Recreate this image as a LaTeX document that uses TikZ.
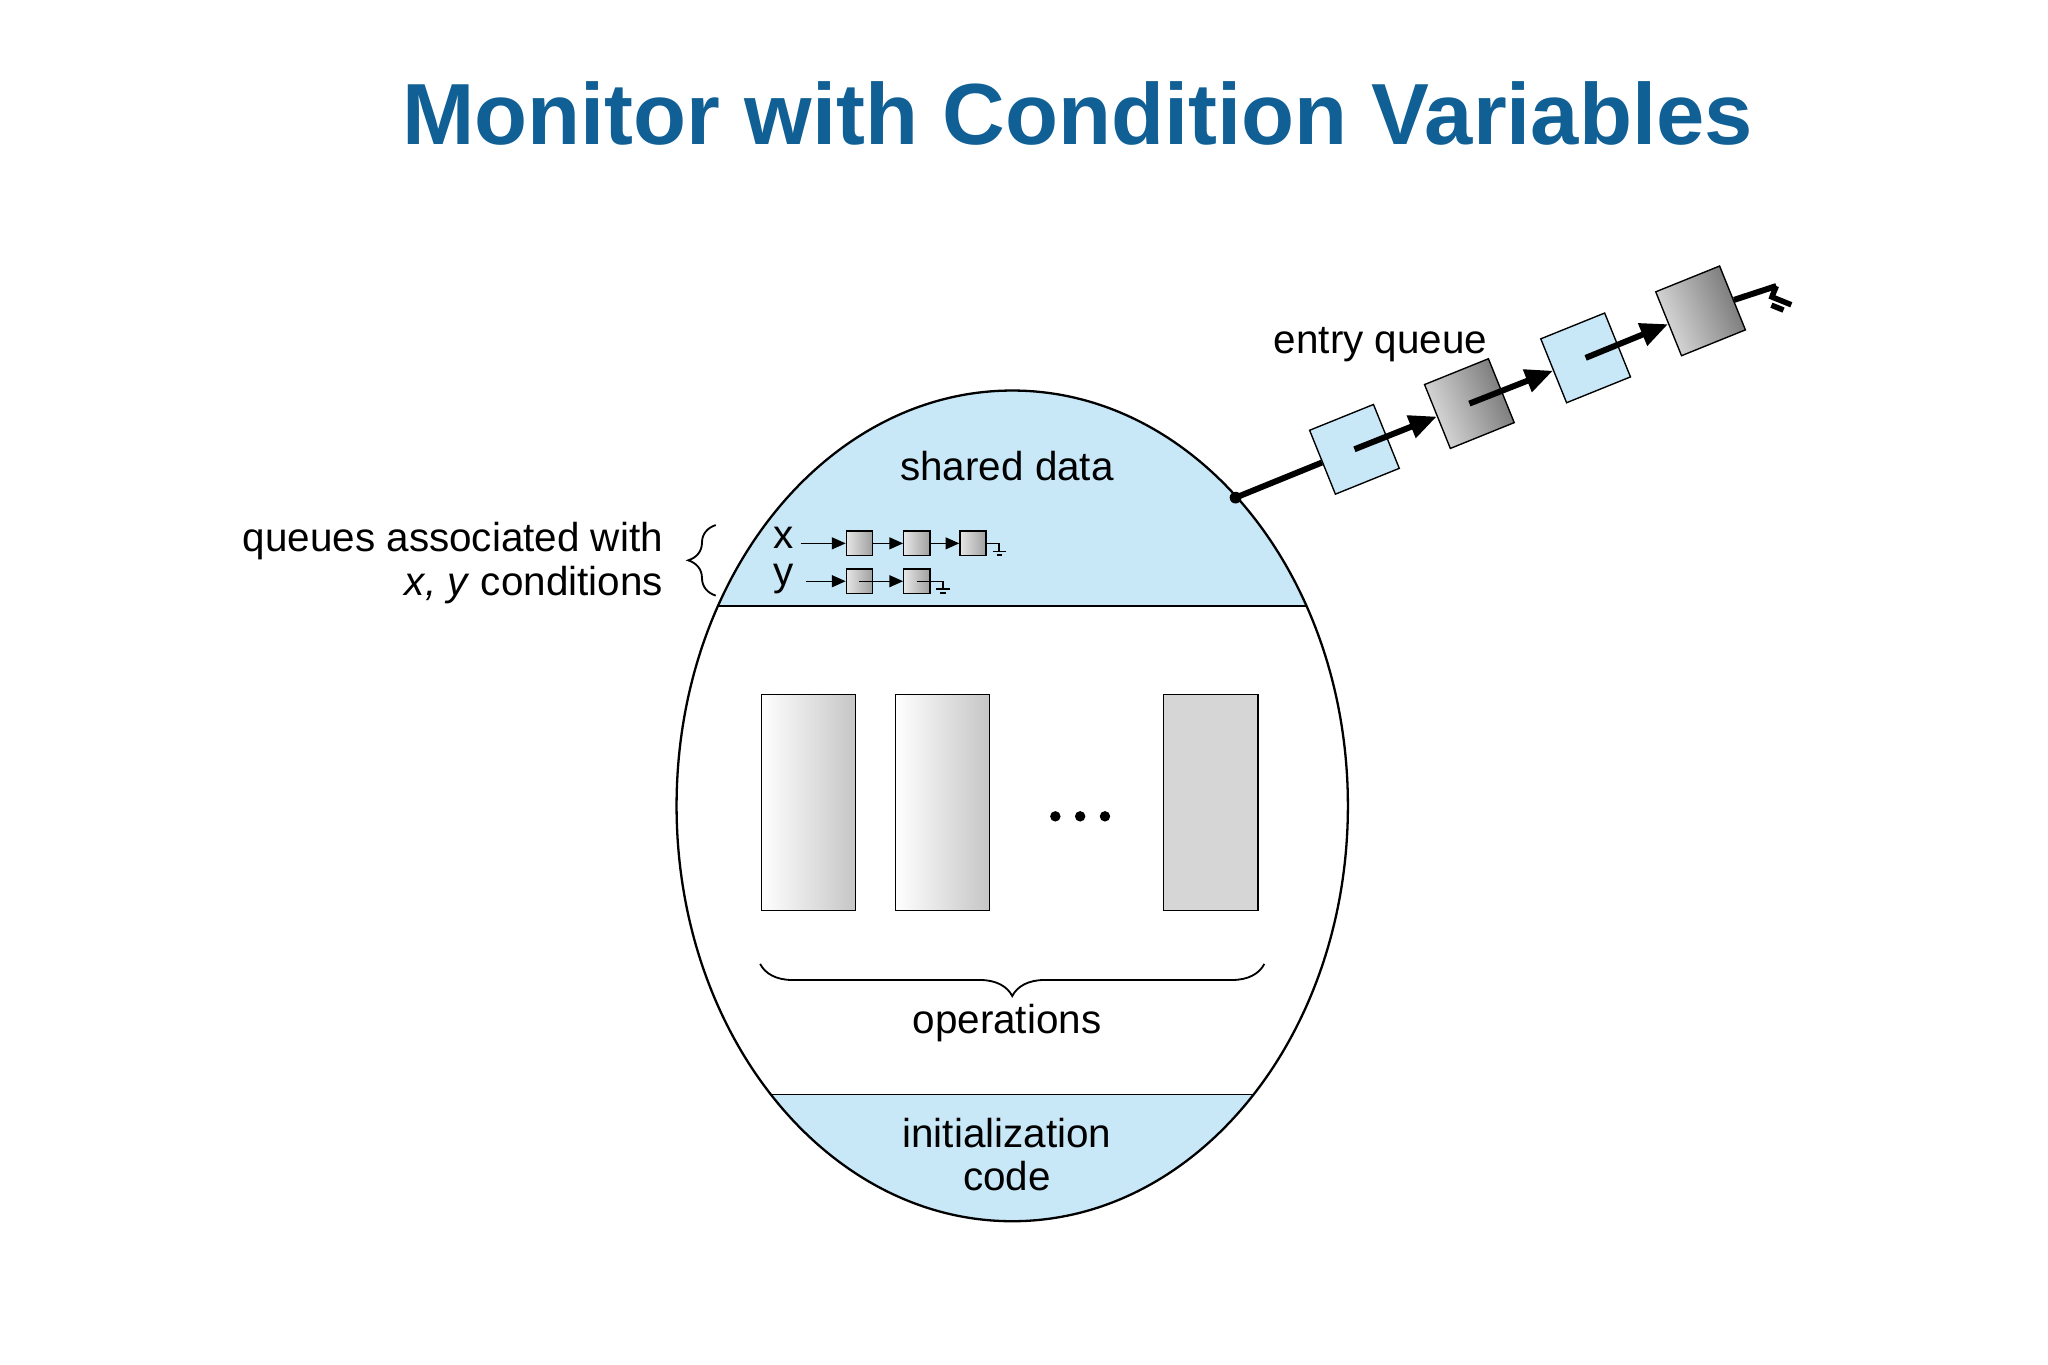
\documentclass[tikz,border=0pt]{standalone}
\usepackage{fontspec}
\setmainfont{Liberation Sans}
\usetikzlibrary{arrows.meta,decorations.pathreplacing}
\definecolor{lb}{RGB}{200,232,247}
\definecolor{tb}{RGB}{16,96,150}
\begin{document}
\begin{tikzpicture}[x=0.01cm,y=-0.01cm,
  txt/.style={font=\fontsize{8.8}{10.5}\selectfont},
  sq/.style={draw=black,line width=0.3pt,minimum size=15pt,inner sep=0pt,rotate=22},
  bsq/.style={sq,fill=lb},
  gsq/.style={sq,left color=gray!25,right color=gray!90!black,shading angle=112},
  op/.style={draw=black,line width=0.3pt,minimum width=20.5pt,minimum height=47pt,inner sep=0pt},
  sm/.style={draw=black,line width=0.3pt,minimum width=5.7pt,minimum height=5.4pt,inner sep=0pt,left color=gray!20,right color=gray!75},
  ea/.style={line width=1.3pt,-{Triangle[length=6pt,width=5pt]}},
  sa/.style={line width=0.3pt,-{Triangle[length=3pt,width=2.6pt]}}]
\useasboundingbox (0,0) rectangle (1568,1045);
\fill[white] (0,0) rectangle (1568,1045);
\node[font=\bfseries\fontsize{18.9}{22}\selectfont,text=tb] (title) at (825,87) {Monitor with Condition Variables};
% ellipse bands
\begin{scope}
\clip (775,617) ellipse [x radius=257,y radius=318];
\fill[lb] (500,290) rectangle (1040,464);
\fill[lb] (500,838) rectangle (1040,945);
\draw[line width=0.4pt] (500,464) -- (1040,464);
\draw[line width=0.4pt] (500,838) -- (1040,838);
\end{scope}
\draw[line width=0.5pt] (775,617) ellipse [x radius=257,y radius=318];
\node[txt] (sd) at (771,357) {shared data};
\node[txt,align=center] (ic) at (771,884) {initialization\\[-1pt]code};
% operations
\node[op,left color=white,right color=gray!45] (o1) at (619,614.5) {};
\node[op,left color=white,right color=gray!45] (o2) at (721.5,614.5) {};
\node[op,fill=gray!32] (o3) at (927,614.5) {};
\foreach \xx in {808,827,846} \fill (\xx,625) circle (4);
\draw[line width=0.4pt,decorate,decoration={brace,mirror,amplitude=7pt}] (582,738) -- (968,738);
\node[txt] (ops) at (771,783) {operations};
% left labels
\node[txt,anchor=east,align=right] (ql) at (520,431) {queues associated with\\[-1pt]\textit{x, y} conditions};
\draw[line width=0.4pt,decorate,decoration={brace,amplitude=6pt}] (548,456) -- (548,402);
% x queue
\node[txt] (xl) at (600,412) {x};
\node[txt] (yl) at (600,443) {y};
\node[sm] (x1) at (658,416) {};
\node[sm] (x2) at (702,416) {};
\node[sm] (x3) at (745,416) {};
\node[sm] (y1) at (658,445) {};
\node[sm] (y2) at (702,445) {};
\coordinate (xs) at (613,416);
\coordinate (ys) at (617,445);
\draw[sa] (xs) -- (x1.west);
\draw[sa] (x1.east) -- (x2.west);
\draw[sa] (x2.east) -- (x3.west);
\draw[sa] (ys) -- (y1.west);
\draw[sa] (y1.center) -- (y2.west);
\coordinate (xg) at (765,416);
\coordinate (yg) at (722,445);
\draw[line width=0.3pt] (x3.east) -- (xg) -- ++(0,6) ++(-5,0) -- ++(10,0) ++(-7,3) -- ++(4,0);
\draw[line width=0.3pt] (y2.center) -- (yg) -- ++(0,6) ++(-5,0) -- ++(10,0) ++(-7,3) -- ++(4,0);
% entry queue
\node[txt] (eq) at (1057,264) {entry queue};
\fill (946,381) circle (4.5) coordinate (dot);
\node[bsq] (e1) at (1037,344) {};
\node[gsq] (e2) at (1125,309) {};
\node[bsq] (e3) at (1214,274) {};
\node[gsq] (e4) at (1302,238) {};
\draw[line width=1.3pt] (dot) -- (e1);
\draw[ea] (e1.center) -- (e2);
\draw[ea] (e2.center) -- (e3);
\draw[ea] (e3.center) -- (e4);
\coordinate (eg) at (1360,219);
\draw[line width=1.3pt] (e4) -- (eg);
\begin{scope}[shift={(eg)},rotate=-22,line width=1.2pt]
\draw (0,0) -- (0,9) (-2,9) -- (16,9) (2,15) -- (12,15);
\end{scope}
\end{tikzpicture}
\end{document}
